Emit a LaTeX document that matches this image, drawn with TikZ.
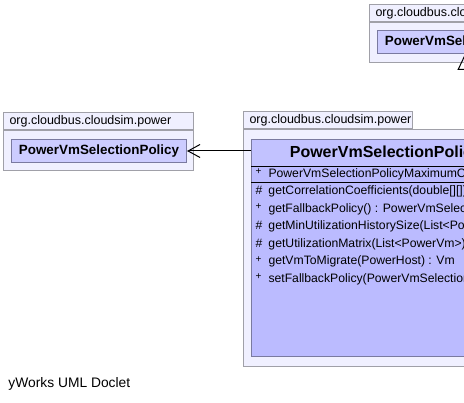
\documentclass[tikz,border=0pt]{standalone}
\usepackage{fontspec}
\setmainfont{Liberation Sans}
\usetikzlibrary{positioning}
\usetikzlibrary{arrows.meta}

\definecolor{pkgfill}{HTML}{F0F0FF}
\definecolor{pkgline}{HTML}{A0A0A8}
\definecolor{clsfill}{HTML}{CCCCFF}
\definecolor{mainfill}{HTML}{BBBBFF}
\definecolor{headfill}{HTML}{C2C2FF}
\definecolor{clsline}{HTML}{7A7AA0}

\newcommand{\vispub}{\raisebox{2.5pt}{\fontsize{10}{10}\selectfont +}}
\newcommand{\visprot}{\#}

\begin{document}
\begin{tikzpicture}[x=1pt,y=-1pt,line width=1pt,
    pkg tab/.style={draw=pkgline,fill=pkgfill,anchor=north west,inner sep=0pt,minimum height=17pt},
    pkg body/.style={draw=pkgline,fill=pkgfill,anchor=north west,inner sep=0pt},
    pkg name/.style={inner sep=0pt,font=\fontsize{12.5}{14}\selectfont},
    class box/.style={draw=clsline,fill=clsfill,anchor=north west,inner sep=0pt,minimum height=23pt,font=\fontsize{13.4}{15}\selectfont\bfseries},
    member/.style={anchor=west,inner sep=0pt,font=\fontsize{12.2}{14}\selectfont},
    assoc/.style={-{Straight Barb[length=12pt,width=13pt]}},
    gen/.style={-{Triangle[open,length=16pt,width=15pt]}}]
  \path[use as bounding box,fill=white] (0,0) rectangle (464,403);

  % superclass package (top right)
  \node[pkg tab,minimum width=190pt] (ttab) at (369,4) {};
  \node[pkg name,right=6pt of ttab.west] {org.cloudbus.cloudsim.power};
  \node[pkg body,minimum width=190pt,minimum height=40pt] (tpkg) at (ttab.south west) {};
  \node[class box,minimum width=175pt] (tcls) at (377,30) {PowerVmSelectionPolicy};

  % fallback policy package (left)
  \node[pkg tab,minimum width=190pt] (ltab) at (3,112) {};
  \node[pkg name,right=6pt of ltab.west] {org.cloudbus.cloudsim.power};
  \node[pkg body,minimum width=190pt,minimum height=40pt] (lpkg) at (ltab.south west) {};
  \node[class box,minimum width=175pt] (lcls) at (11,139) {PowerVmSelectionPolicy};

  % main package
  \node[pkg tab,minimum width=169pt] (mtab) at (243,111) {};
  \node[pkg name,right=6pt of mtab.west] {org.cloudbus.cloudsim.power};
  \node[pkg body,minimum width=450pt,minimum height=237pt] (mpkg) at (mtab.south west) {};
  \node[draw=clsline,fill=mainfill,anchor=north west,inner sep=0pt,minimum width=427pt,minimum height=217pt] (mcls) at (251,139) {};
  \node[draw=clsline,fill=headfill,anchor=north west,inner sep=0pt,minimum width=427pt,minimum height=27pt,
        font=\fontsize{16}{18}\selectfont\bfseries] (mhead) at (mcls.north west) {PowerVmSelectionPolicyMaximumCorrelation};
  \draw (mhead.south west) -- (mhead.south east);
  \draw ([yshift=-16pt]mhead.south west) -- ([yshift=-16pt]mhead.south east);
  \node[member] at (255,174) {\makebox[13pt][l]{\vispub}PowerVmSelectionPolicyMaximumCorrelation(PowerVmSelectionPolicy)};
  \foreach \yy/\vis/\txt in {191.5/\visprot/{getCorrelationCoefficients(double[][]) : double[]},
      209/\vispub/{getFallbackPolicy() : PowerVmSelectionPolicy},
      226.5/\visprot/{getMinUtilizationHistorySize(List<PowerVm>) : int},
      244/\visprot/{getUtilizationMatrix(List<PowerVm>) : double[][]},
      261.5/\vispub/{getVmToMigrate(PowerHost) : Vm},
      279/\vispub/{setFallbackPolicy(PowerVmSelectionPolicy) : void}}
    \node[member] at (255,\yy) {\makebox[13pt][l]{\vis}\txt};

  % connectors
  \draw[assoc] (mcls.west |- lcls.east) -- (lcls.east);
  \draw[gen] (mcls.north) -- (tcls.south);

  \node[anchor=west,inner sep=0pt,font=\fontsize{13.8}{15}\selectfont] (credit) at (8,384) {yWorks UML Doclet};
\end{tikzpicture}
\end{document}
